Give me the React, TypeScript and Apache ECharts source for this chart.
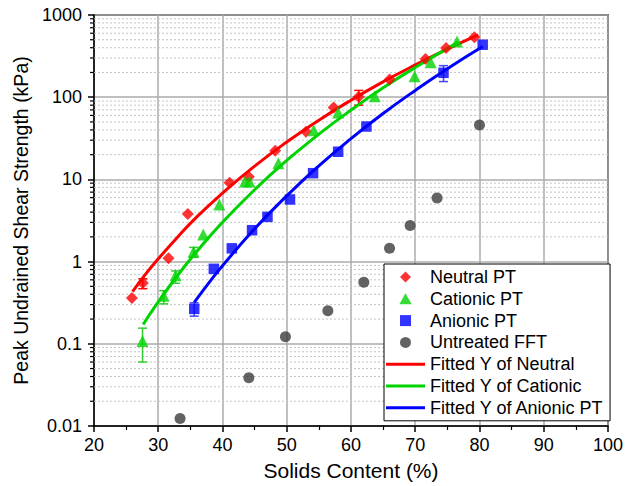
import React, { useEffect, useRef } from "react";
import * as echarts from "echarts";

// ---- Data ----
const neutralX = [25.9, 27.6, 31.6, 34.6, 41.1, 44.1, 48.2, 53.0, 57.3, 61.2, 66.0, 71.6, 74.8, 79.2];
const neutralY = [0.36, 0.55, 1.1, 3.8, 9.1, 10.8, 22.3, 38, 75, 101, 164, 292, 396, 537];

const cationicX = [27.55, 30.85, 32.7, 35.5, 37.0, 39.5, 43.5, 44.2, 48.7, 54.2, 58.0, 63.7, 69.9, 72.4, 76.5];
const cationicY = [0.108, 0.385, 0.68, 1.32, 2.14, 4.94, 9.4, 9.4, 15.7, 39.7, 65, 103, 180, 266, 476];

const anionicX = [35.6, 38.65, 41.45, 44.6, 47.0, 50.5, 54.1, 58.0, 62.4, 74.4, 80.5];
const anionicY = [0.266, 0.817, 1.45, 2.41, 3.5, 5.7, 11.9, 21.7, 44, 198, 435];

const untreatedX = [33.4, 44.1, 49.8, 56.4, 62.0, 66.0, 69.2, 73.4, 80.0];
const untreatedY = [0.0123, 0.0387, 0.122, 0.252, 0.56, 1.45, 2.75, 5.95, 46];

// error bars: [x, low, high]
const neutralErr = [[27.6, 0.468, 0.618], [61.2, 80, 121]];
const cationicErr = [[27.55, 0.06, 0.155], [30.85, 0.306, 0.443], [32.7, 0.545, 0.77], [35.5, 1.13, 1.49]];
const anionicErr = [[35.6, 0.217, 0.315], [74.4, 155, 242]];

// fitted curves
const fitNeutralX = [26, 28, 30, 33, 36, 40, 45, 50, 55, 60, 65, 70, 75, 79.8];
const fitNeutralY = [0.43, 0.7, 1.08, 1.98, 3.5, 6.8, 14.5, 28.5, 52.6, 92, 154, 247, 385, 573];

const fitCationicX = [27.65, 30, 33, 36, 40, 45, 50, 55, 60, 65, 70, 76.7];
const fitCationicY = [0.172, 0.323, 0.677, 1.33, 3.01, 7.49, 17.0, 35.5, 69.7, 130, 230, 468];

const fitAnionicX = [35.6, 38, 40, 45, 50, 55, 60, 65, 70, 75, 80.5];
const fitAnionicY = [0.32, 0.567, 0.89, 2.51, 6.31, 14.6, 31.3, 63.3, 121, 222, 413];

const yTicks = [0.01, 0.1, 1, 10, 100, 1000];
const yTickLabels = ["0.01", "0.1", "1", "10", "100", "1000"];
const minorMultipliers = [2, 3, 4, 5, 6, 7, 8, 9];

const LINE_ICON = "path://M0 0H40V3H0Z";
const legendItems = [
  { name: "Neutral PT", icon: "path://M5 0L10 5L5 10L0 5Z" },
  { name: "Cationic PT", icon: "path://M5 0L10 9L0 9Z" },
  { name: "Anionic PT", icon: "path://M0 0H9V9H0Z" },
  { name: "Untreated FFT", icon: "path://M5 0A5 5 0 1 1 5 10A5 5 0 1 1 5 0Z" },
  { name: "Fitted Y of Neutral", icon: LINE_ICON },
  { name: "Fitted Y of Cationic", icon: LINE_ICON },
  { name: "Fitted Y of Anionic PT", icon: LINE_ICON },
];

const RED = "#ff0000";
const GREEN = "#00d400";
const BLUE = "#0000ff";
const GREY = "#3c3c3c";
const FONT = "Liberation Sans, Arial, sans-serif";

const zip = (xs: number[], ys: number[]) => xs.map((x, i) => [x, ys[i]]);

export default function App() {
  const ref = useRef<HTMLDivElement>(null);

  useEffect(() => {
    if (!ref.current) return;
    const chart = echarts.init(ref.current, null, { renderer: "svg" });

    const minorVals: number[] = [];
    yTicks.slice(0, -1).forEach((d) => minorMultipliers.forEach((m) => minorVals.push(d * m)));

    const errSeries = (data: number[][], color: string) => ({
      type: "custom",
      silent: true,
      z: 3,
      clip: false,
      data,
      encode: { x: 0, y: [1, 2] },
      renderItem: (params: any, api: any) => {
        const x = api.value(0);
        const lo = api.coord([x, api.value(1)]);
        const hi = api.coord([x, api.value(2)]);
        const w = 4.5;
        const style = { stroke: color, lineWidth: 1.5, fill: "none" };
        return {
          type: "group",
          children: [
            { type: "line", shape: { x1: lo[0], y1: lo[1], x2: hi[0], y2: hi[1] }, style },
            { type: "line", shape: { x1: lo[0] - w, y1: lo[1], x2: lo[0] + w, y2: lo[1] }, style },
            { type: "line", shape: { x1: hi[0] - w, y1: hi[1], x2: hi[0] + w, y2: hi[1] }, style },
          ],
        };
      },
    });

    const option: any = {
      animation: false,
      backgroundColor: "#fff",
      textStyle: { fontFamily: FONT },
      grid: {
        left: 94,
        right: 16,
        top: 15,
        bottom: 57,
        show: true,
        borderColor: "#000",
        borderWidth: 1.5,
        backgroundColor: "transparent",
      },
      xAxis: {
        type: "value",
        min: 20,
        max: 100,
        interval: 10,
        name: "Solids Content (%)",
        nameLocation: "middle",
        nameGap: 34,
        nameTextStyle: { fontSize: 21, color: "#000", fontFamily: FONT },
        axisLine: { show: true, onZero: false, lineStyle: { color: "#000", width: 1.5 } },
        axisTick: { show: true, inside: false, length: 6, lineStyle: { color: "#000", width: 1.5 } },
        minorTick: { show: true, splitNumber: 2, length: 4, lineStyle: { color: "#000", width: 1.2 } },
        splitLine: { show: true, lineStyle: { color: "#ababab", width: 1.5 } },
        axisLabel: { fontSize: 18, color: "#000", margin: 10, fontFamily: FONT },
      },
      yAxis: {
        type: "log",
        logBase: 10,
        min: 0.01,
        max: 1000,
        name: "Peak Undrained Shear Strength (kPa)",
        nameLocation: "middle",
        nameGap: 62,
        nameTextStyle: { fontSize: 19.5, color: "#000", fontFamily: FONT },
        axisLine: { show: true, lineStyle: { color: "#000", width: 1.5 } },
        axisTick: { show: true, inside: false, length: 6, lineStyle: { color: "#000", width: 1.5 } },
        splitLine: { show: true, lineStyle: { color: "#ababab", width: 1.5 } },
        axisLabel: {
          fontSize: 18,
          color: "#000",
          margin: 12,
          fontFamily: FONT,
          formatter: (v: number) => {
            let best = 0;
            yTicks.forEach((t, i) => {
              if (Math.abs(Math.log10(t) - Math.log10(v)) < Math.abs(Math.log10(yTicks[best]) - Math.log10(v))) best = i;
            });
            return yTickLabels[best];
          },
        },
      },
      legend: {
        orient: "vertical",
        left: 384,
        top: 264,
        backgroundColor: "#fff",
        borderColor: "#000",
        borderWidth: 1,
        borderRadius: 0,
        padding: [4, 6, 4, 2],
        itemGap: 3.8,
        itemWidth: 39,
        itemHeight: 11,
        symbolKeepAspect: true,
        textStyle: { fontSize: 18, color: "#000", fontFamily: FONT },
        data: legendItems,
      },
      series: [
        {
          // minor grid lines and minor ticks on the y axis
          type: "custom",
          silent: true,
          z: 1,
          clip: false,
          data: minorVals.map((v) => [20, v]),
          encode: { x: 0, y: 1 },
          renderItem: (params: any, api: any) => {
            const cs = params.coordSys;
            const p = api.coord([20, api.value(1)]);
            return {
              type: "group",
              children: [
                {
                  type: "line",
                  shape: { x1: cs.x, y1: p[1], x2: cs.x + cs.width, y2: p[1] },
                  style: { stroke: "#c4c4c4", lineWidth: 1, lineDash: [2, 2] },
                },
                {
                  type: "line",
                  shape: { x1: cs.x - 4, y1: p[1], x2: cs.x, y2: p[1] },
                  style: { stroke: "#000", lineWidth: 1.2 },
                },
              ],
            };
          },
        },
        {
          name: "Fitted Y of Neutral",
          type: "line",
          smooth: true,
          symbol: "none",
          z: 4,
          data: zip(fitNeutralX, fitNeutralY),
          lineStyle: { color: RED, width: 3 },
          itemStyle: { color: RED },
        },
        {
          name: "Fitted Y of Cationic",
          type: "line",
          smooth: true,
          symbol: "none",
          z: 4,
          data: zip(fitCationicX, fitCationicY),
          lineStyle: { color: GREEN, width: 3 },
          itemStyle: { color: GREEN },
        },
        {
          name: "Fitted Y of Anionic PT",
          type: "line",
          smooth: true,
          symbol: "none",
          z: 4,
          data: zip(fitAnionicX, fitAnionicY),
          lineStyle: { color: BLUE, width: 3 },
          itemStyle: { color: BLUE },
        },
        errSeries(neutralErr, RED),
        errSeries(cationicErr, "#33cc33"),
        errSeries(anionicErr, "#4444ff"),
        {
          name: "Neutral PT",
          type: "scatter",
          symbol: "diamond",
          symbolSize: 12,
          z: 5,
          data: zip(neutralX, neutralY),
          itemStyle: { color: RED },
        },
        {
          name: "Cationic PT",
          type: "scatter",
          symbol: "triangle",
          symbolSize: 12,
          z: 5,
          data: zip(cationicX, cationicY),
          itemStyle: { color: GREEN },
        },
        {
          name: "Anionic PT",
          type: "scatter",
          symbol: "rect",
          symbolSize: 10.5,
          z: 5,
          data: zip(anionicX, anionicY),
          itemStyle: { color: BLUE },
        },
        {
          name: "Untreated FFT",
          type: "scatter",
          symbol: "circle",
          symbolSize: 11,
          z: 5,
          data: zip(untreatedX, untreatedY),
          itemStyle: { color: GREY },
        },
      ],
    };

    chart.setOption(option);
    return () => chart.dispose();
  }, []);

  return (
    <div
      ref={ref}
      style={{ position: "absolute", left: 0, top: 0, width: 626, height: 486, background: "#fff" }}
    />
  );
}
